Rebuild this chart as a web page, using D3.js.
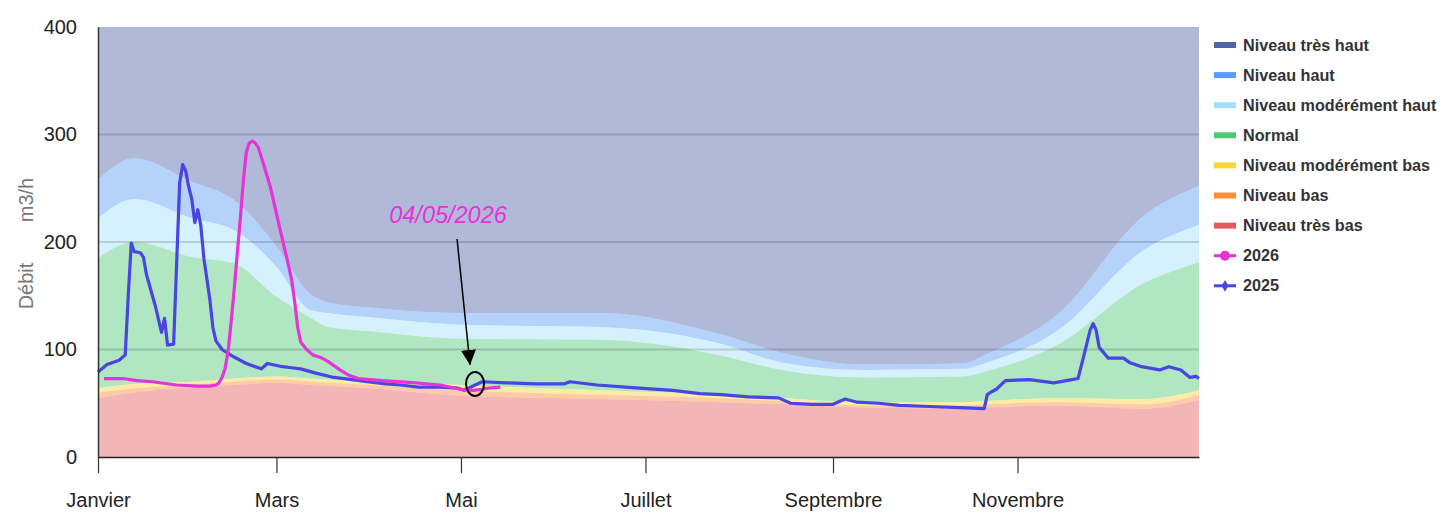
<!DOCTYPE html>
<html>
<head>
<meta charset="utf-8">
<script src="https://cdn.jsdelivr.net/npm/d3@7"></script>
<style>
body { margin: 0; background: #fff; }
text { font-family: "Liberation Sans", Arial, sans-serif; }
</style>
</head>
<body>
<svg id="chart"></svg>
<script>
const width = 1443
const height = 515
const refYear = 2025

// threshold curves, read at these dates (MM-DD)
const levelDates = ["01-01","01-13","02-01","02-15","03-01","03-12","03-18","04-01","05-01","06-16","07-25","08-15","09-11","10-14","10-22","11-14","12-13","12-31"]
const tresBas    = [55, 60, 65, 67, 69, 67, 66, 64, 57, 54, 51, 49, 46, 45, 46, 48, 45, 53]
const bas        = [60, 64, 67, 70, 72, 70, 69, 67, 62, 58, 55, 52, 48, 48, 49, 51, 49, 58]
const modereBas  = [64, 68, 70, 73, 75, 73, 72, 71, 67, 62, 58, 55, 51, 51, 52, 55, 54, 62]
const normal     = [185, 200, 186, 180, 149, 130, 121, 117, 110, 109, 95, 81, 74, 75, 80, 104, 162, 181]
const modereHaut = [222, 240, 222, 211, 177, 137, 134, 130, 123, 121, 106, 88, 81, 82, 88, 117, 193, 216]
const haut       = [258, 278, 256, 239, 196, 152, 144, 139, 134, 134, 115, 97, 86, 87, 96, 132, 225, 252]
const tresHaut   = 400

const levelNames = ["Niveau très haut","Niveau haut","Niveau modérément haut","Normal","Niveau modérément bas","Niveau bas","Niveau très bas"]
const levelColors = ["#5064a8","#5b9cf6","#a0e0fa","#50c878","#fcd53a","#fa8f3a","#e55a5a"]

// 2025 series
const dates2025 = ["01-01","01-04","01-08","01-10","01-11","01-12","01-13","01-15","01-16","01-17","01-19","01-20","01-22","01-23","01-24","01-26","01-27","01-28","01-29","01-30","01-31",
  "02-01","02-02","02-03","02-04","02-05","02-07","02-08","02-09","02-11","02-15","02-19","02-24","02-26",
  "03-03","03-06","03-09","03-14","03-20","03-26","03-31","04-06","04-11","04-17","04-24","04-30",
  "05-02","05-05","05-08","05-16","05-26","06-04","06-06","06-15","06-29","07-10","07-19","07-26",
  "08-04","08-14","08-18","08-25","09-01","09-05","09-09","09-16","09-23","10-03","10-13","10-21","10-22","10-23","10-25","10-28",
  "11-05","11-13","11-19","11-21","11-23","11-25","11-26","11-27","11-28","12-01","12-06","12-08","12-12","12-18","12-21","12-25","12-28","12-30","12-31"]
const values2025 = [79, 86, 90, 95, 150, 199, 191, 190, 186, 170, 150, 140, 116, 129, 104, 105, 180, 255, 272, 266, 251,
  240, 218, 230, 215, 185, 146, 120, 108, 100, 93, 87, 82, 87,
  84, 83, 82, 78, 74, 72, 70, 68, 67, 65, 65, 64,
  62, 66, 70, 69, 68, 68, 70, 67, 64, 62, 59, 58,
  56, 55, 50, 49, 49, 54, 51, 50, 48, 47, 46, 45, 58, 60, 63, 71,
  72, 69, 72, 73, 95, 118, 124, 118, 102, 92, 92, 88, 84, 81, 84, 81, 74, 75, 73]

// 2026 series
const dates2026 = ["01-03","01-09","01-14","01-19","01-27","02-03","02-07","02-09","02-10","02-11","02-12","02-13","02-14","02-15","02-16","02-17","02-18","02-19","02-20","02-21","02-22","02-23","02-25","02-27",
  "03-02","03-04","03-05","03-06","03-07","03-08","03-09","03-11","03-13","03-16","03-18","03-22","03-25","03-28","04-05","04-16","04-24","05-01","05-05","05-08","05-10","05-14"]
const values2026 = [73, 73, 71, 70, 67, 66, 66, 67, 69, 74, 82, 98, 125, 155, 188, 220, 255, 283, 292, 294, 292, 288, 270, 251,
  214, 190, 178, 165, 145, 121, 107, 100, 95, 92, 89, 81, 76, 73, 71, 69, 67, 63, 62, 63, 64, 65]

const annotDate = "05-04"
const annotLabel = "04/05/2026"
const annotValue = 68

const yTicks = [0, 100, 200, 300, 400]
const monthNames = ["Janvier","Février","Mars","Avril","Mai","Juin","Juillet","Août","Septembre","Octobre","Novembre","Décembre"]

const parse = s => d3.timeParse("%Y-%m-%d")(refYear + "-" + s)

const margin = {top: 27, right: 244, bottom: 58, left: 98}

const svg = d3.select("#chart")
    .attr("width", width)
    .attr("height", height)

const x = d3.scaleTime()
    .domain([parse("01-01"), parse("12-31")])
    .range([margin.left, width - margin.right])

const y = d3.scaleLinear()
    .domain([0, 400])
    .range([height - margin.bottom, margin.top])

// bands, from top level down to lowest
const bounds = [tresHaut, haut, modereHaut, normal, modereBas, bas, tresBas]
const levelRows = levelDates.map((d, i) => {
    const val = b => Array.isArray(b) ? b[i] : b
    return {date: parse(d), b: bounds.map(val)}
})

const g = svg.append("g")

levelNames.forEach((name, k) => {
    const area = d3.area()
        .x(d => x(d.date))
        .y0(d => k + 1 < bounds.length ? y(d.b[k + 1]) : y(0))
        .y1(d => y(d.b[k]))
        .curve(d3.curveMonotoneX)
    g.append("path")
        .datum(levelRows)
        .attr("d", area)
        .attr("fill", levelColors[k])
        .attr("fill-opacity", 0.45)
})

// grid lines
g.selectAll(".grid")
    .data(yTicks.filter(t => t > 0 && t < 400))
    .join("line")
    .attr("x1", margin.left)
    .attr("x2", width - margin.right)
    .attr("y1", d => y(d))
    .attr("y2", d => y(d))
    .attr("stroke", "#000")
    .attr("stroke-opacity", 0.15)
    .attr("stroke-width", 2)

// series
const line = d3.line()
    .x(d => x(d.date))
    .y(d => y(d.value))

const s2025 = dates2025.map((d, i) => ({date: parse(d), value: values2025[i]}))
const s2026 = dates2026.map((d, i) => ({date: parse(d), value: values2026[i]}))

g.append("path")
    .datum(s2025)
    .attr("d", line)
    .attr("fill", "none")
    .attr("stroke", "#4845e0")
    .attr("stroke-width", 3.2)
    .attr("stroke-linejoin", "round")

g.append("path")
    .datum(s2026)
    .attr("d", line)
    .attr("fill", "none")
    .attr("stroke", "#e633d8")
    .attr("stroke-width", 3.2)
    .attr("stroke-linejoin", "round")

// axes
const xAxis = svg.append("g")
    .attr("transform", `translate(0,${y(0)})`)
    .call(d3.axisBottom(x)
        .ticks(d3.timeMonth.every(2))
        .tickSize(16)
        .tickSizeOuter(0)
        .tickPadding(20)
        .tickFormat(d => monthNames[d.getMonth()]))
xAxis.select(".domain").attr("stroke", "#222").attr("stroke-width", 1.5)
xAxis.selectAll(".tick line").attr("stroke", "#333").attr("stroke-width", 1.2)
xAxis.selectAll(".tick text")
    .attr("font-size", 20)
    .attr("fill", "#222")
    .style("font-family", "'Liberation Sans', Arial, sans-serif")

const yAxis = svg.append("g")
    .attr("transform", `translate(${margin.left},0)`)
    .call(d3.axisLeft(y).tickValues(yTicks).tickSize(0).tickPadding(21))
yAxis.select(".domain").attr("stroke", "#333").attr("stroke-width", 1.5)
yAxis.selectAll(".tick text")
    .attr("font-size", 20)
    .attr("fill", "#222")
    .style("font-family", "'Liberation Sans', Arial, sans-serif")

// y label
svg.append("text")
    .attr("transform", "translate(26,286) rotate(-90)")
    .attr("text-anchor", "middle")
    .attr("dominant-baseline", "central")
    .attr("font-size", 20)
    .attr("fill", "#777")
    .text("Débit")
svg.append("text")
    .attr("transform", "translate(26,200) rotate(-90)")
    .attr("text-anchor", "middle")
    .attr("dominant-baseline", "central")
    .attr("font-size", 20)
    .attr("fill", "#777")
    .text("m3/h")

// annotation
const ax = x(parse(annotDate))
const ay = y(annotValue)
svg.append("defs").append("marker")
    .attr("id", "arrow")
    .attr("viewBox", "0 0 10 10")
    .attr("refX", 10).attr("refY", 5)
    .attr("markerWidth", 10).attr("markerHeight", 10)
    .attr("orient", "auto")
    .append("path")
    .attr("d", "M0,0L10,5L0,10Z")
    .attr("fill", "#000")

svg.append("line")
    .attr("x1", ax - 13).attr("y1", 239)
    .attr("x2", ax).attr("y2", ay - 19)
    .attr("stroke", "#000")
    .attr("stroke-width", 1.5)
    .attr("marker-end", "url(#arrow)")

svg.append("ellipse")
    .attr("cx", ax + 5).attr("cy", ay)
    .attr("rx", 9).attr("ry", 12)
    .attr("fill", "none")
    .attr("stroke", "#000")
    .attr("stroke-width", 2)

svg.append("text")
    .attr("x", ax - 22).attr("y", 223)
    .attr("text-anchor", "middle")
    .attr("font-size", 23.5)
    .attr("font-style", "italic")
    .attr("fill", "#e633d8")
    .text(annotLabel)

// legend
const legendItems = levelNames.map((n, i) => ({name: n, color: levelColors[i], type: "rect"}))
    .concat([{name: "2026", color: "#e633d8", type: "circle"}, {name: "2025", color: "#4845e0", type: "diamond"}])

const legend = svg.append("g")
    .attr("transform", "translate(1214,45)")

const item = legend.selectAll("g")
    .data(legendItems)
    .join("g")
    .attr("transform", (d, i) => `translate(0,${i * 30.1})`)

item.filter(d => d.type == "rect").append("rect")
    .attr("x", 0).attr("y", -3)
    .attr("width", 22).attr("height", 6)
    .attr("fill", d => d.color)

item.filter(d => d.type != "rect").append("line")
    .attr("x1", 0).attr("x2", 22)
    .attr("stroke", d => d.color)
    .attr("stroke-width", 3)

item.filter(d => d.type == "circle").append("circle")
    .attr("cx", 11).attr("r", 5)
    .attr("fill", d => d.color)

item.filter(d => d.type == "diamond").append("path")
    .attr("d", d3.symbol(d3.symbolDiamond, 40))
    .attr("transform", "translate(11,0)")
    .attr("fill", d => d.color)

item.append("text")
    .attr("x", 29)
    .attr("dy", "0.35em")
    .attr("font-size", 16.2)
    .attr("font-weight", "bold")
    .attr("fill", "#333")
    .text(d => d.name)
</script>
</body>
</html>
